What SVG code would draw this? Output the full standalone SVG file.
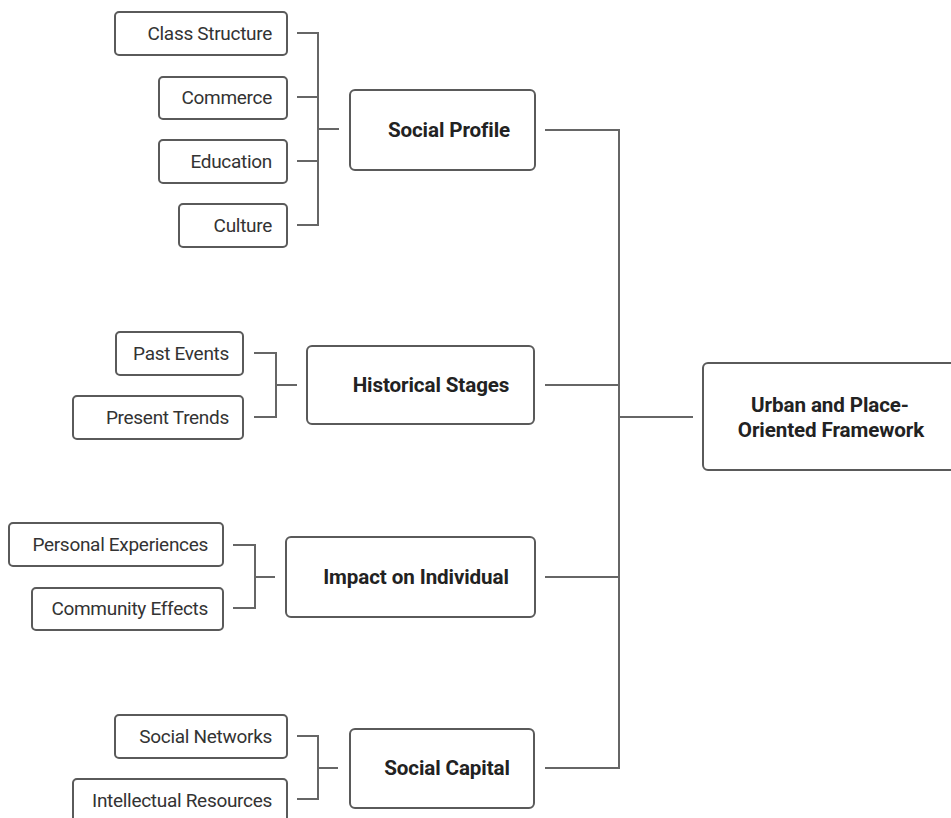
<svg xmlns="http://www.w3.org/2000/svg" width="951" height="818" viewBox="0 0 951 818">
  <style>
    .box { fill: #ffffff; stroke: #5a5a5a; stroke-width: 2; }
    .wire { fill: none; stroke: #666666; stroke-width: 2; }
    .leaf { font-family: Roboto, "Liberation Sans", sans-serif; font-size: 19px; fill: #333333; text-anchor: end; letter-spacing: -0.3px; }
    .head { font-family: Roboto, "Liberation Sans", sans-serif; font-size: 20.6px; font-weight: bold; fill: #222222; text-anchor: middle; letter-spacing: -0.1px; }
  </style>
  <rect width="951" height="818" fill="#ffffff"/>

  <!-- connectors -->
  <g id="connectors">
    <!-- Social Profile branch -->
    <path class="wire" d="M297 33 H318 V225 H297 M297 97 H318 M297 161 H318 M318 129 H339"/>
    <!-- Historical Stages branch -->
    <path class="wire" d="M254 353 H276 V417 H254 M276 385 H297"/>
    <!-- Impact on Individual branch -->
    <path class="wire" d="M233 545 H255 V608 H233 M255 577 H275"/>
    <!-- Social Capital branch -->
    <path class="wire" d="M297 736 H318 V799 H297 M318 768 H338"/>
    <!-- trunk to the framework -->
    <path class="wire" d="M545 130 H619 V768 H545 M545 385 H619 M545 577 H619 M619 417 H693"/>
  </g>

  <!-- Social Profile -->
  <g id="class-structure">
    <rect class="box" x="115" y="12" width="172" height="43" rx="4"/>
    <text class="leaf" x="272" y="40">Class Structure</text>
  </g>
  <g id="commerce">
    <rect class="box" x="159" y="77" width="128" height="42" rx="4"/>
    <text class="leaf" x="272" y="104">Commerce</text>
  </g>
  <g id="education">
    <rect class="box" x="159" y="140" width="128" height="43" rx="4"/>
    <text class="leaf" x="272" y="168">Education</text>
  </g>
  <g id="culture">
    <rect class="box" x="179" y="204" width="108" height="43" rx="4"/>
    <text class="leaf" x="272" y="232">Culture</text>
  </g>
  <g id="social-profile">
    <rect class="box" x="350" y="90" width="185" height="80" rx="5"/>
    <text class="head" x="449" y="137">Social Profile</text>
  </g>

  <!-- Historical Stages -->
  <g id="past-events">
    <rect class="box" x="116" y="332" width="127" height="43" rx="4"/>
    <text class="leaf" x="229" y="360">Past Events</text>
  </g>
  <g id="present-trends">
    <rect class="box" x="73" y="396" width="170" height="43" rx="4"/>
    <text class="leaf" x="229" y="424">Present Trends</text>
  </g>
  <g id="historical-stages">
    <rect class="box" x="307" y="346" width="227" height="78" rx="5"/>
    <text class="head" x="431" y="392">Historical Stages</text>
  </g>

  <!-- Impact on Individual -->
  <g id="personal-experiences">
    <rect class="box" x="9" y="523" width="214" height="43" rx="4"/>
    <text class="leaf" x="208" y="551">Personal Experiences</text>
  </g>
  <g id="community-effects">
    <rect class="box" x="32" y="588" width="191" height="42" rx="4"/>
    <text class="leaf" x="208" y="615">Community Effects</text>
  </g>
  <g id="impact-on-individual">
    <rect class="box" x="286" y="537" width="249" height="80" rx="5"/>
    <text class="head" x="416" y="584">Impact on Individual</text>
  </g>

  <!-- Social Capital -->
  <g id="social-networks">
    <rect class="box" x="115" y="715" width="172" height="43" rx="4"/>
    <text class="leaf" x="272" y="743">Social Networks</text>
  </g>
  <g id="intellectual-resources">
    <rect class="box" x="73" y="779" width="214" height="43" rx="4"/>
    <text class="leaf" x="272" y="807">Intellectual Resources</text>
  </g>
  <g id="social-capital">
    <rect class="box" x="350" y="729" width="184" height="79" rx="5"/>
    <text class="head" x="447" y="775">Social Capital</text>
  </g>

  <!-- Framework -->
  <g id="framework">
    <rect class="box" x="703" y="363" width="260" height="107" rx="5"/>
    <text class="head" x="830" y="412">Urban and Place-</text>
    <text class="head" x="831" y="437">Oriented Framework</text>
  </g>
</svg>
